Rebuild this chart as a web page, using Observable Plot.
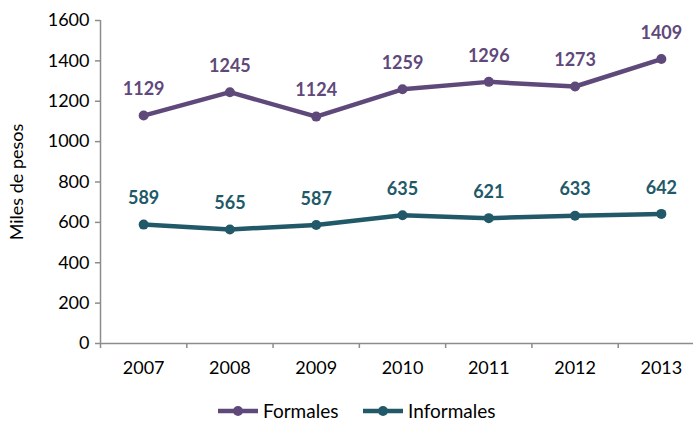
<!DOCTYPE html>
<html>
<head>
<meta charset="utf-8">
<script src="https://cdn.jsdelivr.net/npm/d3@7"></script>
<script src="https://cdn.jsdelivr.net/npm/@observablehq/plot@0.6"></script>
<style>
  body { margin: 0; background: #fff; }
  #wrap { position: relative; width: 693px; height: 421px; font-family: Lato, "Open Sans", sans-serif; }
  #legend { position: absolute; top: 400px; left: 0; width: 693px; height: 21px; font-size: 19px; color: #000; }
  .item { position: absolute; top: 0; display: flex; align-items: center; }
  .item span { margin-left: 4px; line-height: 21px; }
</style>
</head>
<body>
<div id="wrap"><div id="chart"></div><div id="legend"></div></div>
<script>
const years = [2007, 2008, 2009, 2010, 2011, 2012, 2013];
const formales = [1129, 1245, 1124, 1259, 1296, 1273, 1409];
const informales = [589, 565, 587, 635, 621, 633, 642];
const seriesNames = ["Formales", "Informales"];
const colors = ["#5f497a", "#215968"];
const yTicks = [0, 200, 400, 600, 800, 1000, 1200, 1400, 1600];
const yLabel = "Miles de pesos";

const data = [];
years.forEach((y, i) => {
  data.push({year: y, value: formales[i], series: seriesNames[0]});
  data.push({year: y, value: informales[i], series: seriesNames[1]});
});
const boundaries = years.map(y => y - 0.5);

const chart = Plot.plot({
  width: 693,
  height: 392,
  marginLeft: 100,
  marginRight: 0,
  marginTop: 20,
  marginBottom: 49,
  style: {fontFamily: "Lato, 'Open Sans', sans-serif", color: "#000", background: "#fff"},
  x: {type: "linear", domain: [years[0] - 0.5, years[years.length - 1] + 0.5], range: [100, 704]},
  y: {domain: [0, 1600]},
  color: {domain: seriesNames, range: colors},
  marks: [
    Plot.ruleY([0], {stroke: "#8c8c8c", strokeWidth: 1.5}),
    Plot.ruleX([years[0] - 0.5], {stroke: "#8c8c8c", strokeWidth: 1.5}),
    Plot.axisY({ticks: yTicks, tickSize: 5, tickPadding: 6, stroke: "#8c8c8c", strokeWidth: 1.5, fontSize: 18, fill: "#000", tickFormat: d => String(d),
      label: yLabel, labelAnchor: "center", labelOffset: 90, labelArrow: false}),
    Plot.axisX({ticks: boundaries, tickSize: 5, stroke: "#8c8c8c", strokeWidth: 1.5, tickFormat: () => "", label: null}),
    Plot.axisX({ticks: years, tickSize: 0, tickPadding: 18, fontSize: 18, fill: "#000", tickFormat: d => String(d), label: null}),
    Plot.line(data, {x: "year", y: "value", z: "series", stroke: "series", strokeWidth: 4.5}),
    Plot.dot(data, {x: "year", y: "value", fill: "series", r: 5}),
    Plot.text(data, {x: "year", y: "value", text: d => String(d.value), fill: "series", dy: -26, fontSize: 18, fontWeight: "bold"})
  ]
});
document.getElementById("chart").appendChild(chart);

const legend = document.getElementById("legend");
const lefts = [217, 362];
seriesNames.forEach((name, i) => {
  const el = document.createElement("div");
  el.className = "item";
  el.style.left = lefts[i] + "px";
  el.innerHTML = `<svg width="42" height="21"><line x1="1" x2="41" y1="11" y2="11" stroke="${colors[i]}" stroke-width="4.5"/><circle cx="21" cy="11" r="5" fill="${colors[i]}"/></svg><span>${name}</span>`;
  legend.appendChild(el);
});
</script>
</body>
</html>
